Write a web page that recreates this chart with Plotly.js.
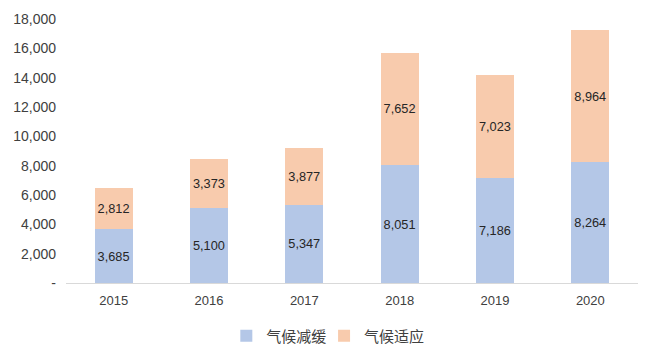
<!DOCTYPE html>
<html><head><meta charset="utf-8">
<script src="https://cdn.plot.ly/plotly-3.0.1.min.js"></script>
<style>body{margin:0;background:#fff}#c{width:656px;height:362px}</style>
</head><body><div id="c"></div>
<script>
const years = ['2015','2016','2017','2018','2019','2020'];
const mitigation = [3685, 5100, 5347, 8051, 7186, 8264];
const adaptation = [2812, 3373, 3877, 7652, 7023, 8964];
const seriesNames = ['气候减缓', '气候适应'];
const tickVals = [0,2000,4000,6000,8000,10000,12000,14000,16000,18000];
const tickText = ['-','2,000','4,000','6,000','8,000','10,000','12,000','14,000','16,000','18,000'];
const fmt = v => v.toLocaleString('en-US');
const font = 'Liberation Sans, Arial, sans-serif';
const traces = [
  {type:'bar', name:seriesNames[0], x:years, y:mitigation, marker:{color:'#b4c7e7'}, legend:'legend',
   text:mitigation.map(fmt), textposition:'inside', insidetextanchor:'middle', textangle:0,
   textfont:{color:'#262626', size:14, family:font}},
  {type:'bar', name:seriesNames[1], x:years, y:adaptation, marker:{color:'#f8cbad'}, legend:'legend2',
   text:adaptation.map(fmt), textposition:'inside', insidetextanchor:'middle', textangle:0,
   textfont:{color:'#262626', size:14, family:font}}
];
const legFont = {family:'Noto Sans CJK SC', size:15, color:'#404040'};
const layout = {
  width:656, height:362, barmode:'stack', bargap:0.6,
  margin:{l:66, r:18, t:19, b:79},
  paper_bgcolor:'#fff', plot_bgcolor:'#fff',
  showlegend:true,
  legend:{orientation:'h', x:0.345, xanchor:'left', xref:'container', yref:'container', y:0.072, yanchor:'middle',
          font:legFont, itemwidth:30, bgcolor:'rgba(0,0,0,0)'},
  legend2:{orientation:'h', x:0.494, xanchor:'left', xref:'container', yref:'container', y:0.072, yanchor:'middle',
          font:legFont, itemwidth:30, bgcolor:'rgba(0,0,0,0)'},
  xaxis:{type:'category', showgrid:false, showline:true, linecolor:'#d9d9d9', linewidth:1,
         ticks:'', ticklabelstandoff:5, tickfont:{family:font, size:13, color:'#404040'}},
  yaxis:{range:[0,18000], tickvals:tickVals, ticktext:tickText, showgrid:false, zeroline:false,
         showline:false, ticks:'', ticklabelstandoff:9, tickfont:{family:font, size:14, color:'#404040'}},
  uniformtext:{mode:false}
};
Plotly.newPlot('c', traces, layout, {displayModeBar:false, staticPlot:true});
</script></body></html>
